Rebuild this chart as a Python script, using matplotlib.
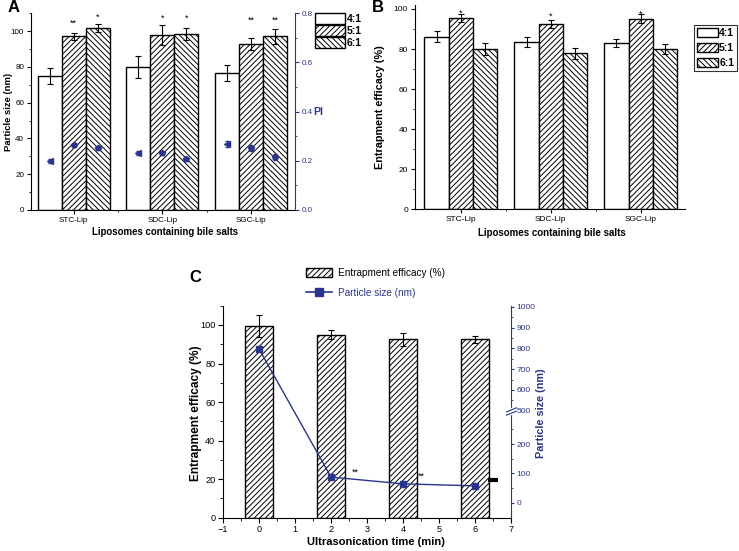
import numpy as np
import matplotlib
matplotlib.use('Agg')
import matplotlib.pyplot as plt
from matplotlib.path import Path
from matplotlib.patches import Patch
from matplotlib.lines import Line2D
from matplotlib.ticker import FixedLocator, MultipleLocator
from matplotlib.transforms import blended_transform_factory

plt.rcParams['font.family'] = ['Liberation Sans', 'DejaVu Sans']
plt.rcParams['hatch.linewidth'] = 0.7

NAVY = '#29348f'

# ---- data ----
groups = ['STC-Lip', 'SDC-Lip', 'SGC-Lip']
ratios = ['4:1', '5:1', '6:1']
hatches = ['', '//////', '\\\\\\\\\\\\']

# panel A: particle size (nm) and PI
size_41 = [75.0, 80.0, 76.4]
size_51 = [97.0, 98.0, 92.6]
size_61 = [101.7, 98.5, 97.0]
size_41_err = [4.3, 6.0, 4.5]
size_51_err = [1.8, 5.5, 3.3]
size_61_err = [2.0, 3.5, 4.3]
size_stars_51 = ['**', '*', '**']
size_stars_61 = ['*', '*', '**']
size_star_y_51 = [104.5, 107.0, 106.0]
size_star_y_61 = [107.5, 107.0, 106.0]
pi_41 = [0.199, 0.233, 0.268]
pi_51 = [0.265, 0.230, 0.252]
pi_61 = [0.253, 0.206, 0.214]
pi_err = [0.008, 0.008, 0.012]

# panel B: entrapment efficacy (%)
ee_41 = [86.2, 83.3, 83.0]
ee_51 = [95.5, 92.5, 95.2]
ee_61 = [80.0, 77.8, 80.0]
ee_41_err = [2.6, 2.5, 2.2]
ee_51_err = [1.8, 2.0, 2.3]
ee_61_err = [3.0, 2.8, 2.5]
ee_star_y = [98.0, 96.5, 97.5]

# panel C: ultrasonication time
times = [0, 2, 4, 6]
ee_time = [99.5, 95.0, 92.6, 92.6]
ee_time_err = [5.5, 2.2, 3.4, 1.7]
psize_time = [797, 87, 64, 57]
c_star_x = [2.67, 4.52]
c_star_y = [104, 90]
c_mark_x = [6.5]
c_mark_y = [78]

fig = plt.figure(figsize=(7.39, 5.51), dpi=100)

ekw = dict(elinewidth=0.8, capsize=2.2, capthick=0.8, ecolor='black')
x = np.arange(len(groups))
w = 0.27


def place_label(axis, xc, yc):
    axis.set_label_coords(xc, yc)
    axis.label.set_va('center')
    axis.label.set_ha('center')


# ============================================
# Panel A
# ============================================
axA = fig.add_axes([0.0419, 0.619, 0.357, 0.357])
sizes = [size_41, size_51, size_61]
size_errs = [size_41_err, size_51_err, size_61_err]
for i in range(3):
    axA.bar(x + (i - 1) * w, sizes[i], w, yerr=size_errs[i], color='white',
            edgecolor='black', linewidth=1.0, hatch=hatches[i], error_kw=ekw,
            label=ratios[i])
for xi, s, y in zip(x, size_stars_51, size_star_y_51):
    axA.text(xi, y, s, ha='center', va='center', fontsize=6.5)
for xi, s, y in zip(x, size_stars_61, size_star_y_61):
    axA.text(xi + w, y, s, ha='center', va='center', fontsize=6.5)
axA.set_xlim(-0.48, 2.49)
axA.set_ylim(0, 110)
axA.set_xticks(x)
axA.set_xticklabels(groups)
axA.xaxis.set_minor_locator(FixedLocator([0.5, 1.5]))
axA.yaxis.set_major_locator(MultipleLocator(20))
axA.yaxis.set_minor_locator(MultipleLocator(10))
axA.tick_params(labelsize=5.8, length=3, width=0.8, pad=2)
axA.tick_params(which='minor', length=1.5, width=0.6)
axA.spines['top'].set_visible(False)
axA.spines['right'].set_visible(False)
axA.set_ylabel('Particle size (nm)', fontsize=6.8, fontweight='bold')
place_label(axA.yaxis, -0.087, 0.5)
axA.set_xlabel('Liposomes containing bile salts', fontsize=6.9, fontweight='bold')
place_label(axA.xaxis, 0.51, -0.11)
axA.legend(loc='upper left', bbox_to_anchor=(1.06, 1.02), frameon=False,
           handlelength=2.9, handleheight=1.15, labelspacing=0.12,
           handletextpad=0.15, borderaxespad=0, prop={'weight': 'bold', 'size': 7.5})

axA2 = axA.twinx()
pis = [pi_41, pi_51, pi_61]
pi_markers = ['<', 'p', 'p']
for i in range(3):
    axA2.errorbar(x + (i - 1) * w, pis[i], yerr=pi_err, fmt=pi_markers[i],
                  color=NAVY, ms=4, elinewidth=0.7, capsize=1.5)
axA2.set_ylim(0, 0.8)
axA2.yaxis.set_major_locator(MultipleLocator(0.2))
axA2.yaxis.set_minor_locator(MultipleLocator(0.1))
for sp in ['top', 'left', 'bottom']:
    axA2.spines[sp].set_visible(False)
axA2.spines['right'].set_color(NAVY)
axA2.tick_params(colors=NAVY, labelsize=5.8, length=3, width=0.8, pad=2)
axA2.tick_params(which='minor', length=1.5, width=0.6, colors=NAVY)
axA2.set_ylabel('PI', rotation=0, color=NAVY, fontsize=7.5, fontweight='bold')
place_label(axA2.yaxis, 1.09, 0.5)

fig.text(8 / 739, 1 - 7 / 551, 'A', fontsize=12, fontweight='bold', va='center')

# ============================================
# Panel B
# ============================================
axB = fig.add_axes([0.5616, 0.620, 0.365, 0.371])
ees = [ee_41, ee_51, ee_61]
ee_errs = [ee_41_err, ee_51_err, ee_61_err]
for i in range(3):
    axB.bar(x + (i - 1) * w, ees[i], w, yerr=ee_errs[i], color='white',
            edgecolor='black', linewidth=1.0, hatch=hatches[i], error_kw=ekw,
            label=ratios[i])
for xi, y in zip(x, ee_star_y):
    axB.text(xi, y, '*', ha='center', va='center', fontsize=6.5)
axB.set_xlim(-0.51, 2.49)
axB.set_ylim(0, 102)
axB.set_xticks(x)
axB.set_xticklabels(groups)
axB.xaxis.set_minor_locator(FixedLocator([0.5, 1.5]))
axB.yaxis.set_major_locator(MultipleLocator(20))
axB.yaxis.set_minor_locator(MultipleLocator(10))
axB.tick_params(labelsize=6.0, length=3, width=0.8, pad=2)
axB.tick_params(which='minor', length=1.5, width=0.6)
axB.spines['top'].set_visible(False)
axB.spines['right'].set_visible(False)
axB.set_ylabel('Entrapment efficacy (%)', fontsize=7.8, fontweight='bold')
place_label(axB.yaxis, -0.13, 0.5)
axB.set_xlabel('Liposomes containing bile salts', fontsize=7.0, fontweight='bold')
place_label(axB.xaxis, 0.507, -0.116)
legB = axB.legend(loc='upper left', bbox_to_anchor=(1.035, 0.9), frameon=True,
                  fancybox=False, edgecolor='black', handlelength=2.0,
                  handleheight=1.0, labelspacing=0.45, handletextpad=0.15,
                  borderpad=0.25, borderaxespad=0, prop={'weight': 'bold', 'size': 7.5})
legB.get_frame().set_linewidth(0.8)

fig.text(372 / 739, 1 - 7 / 551, 'B', fontsize=12, fontweight='bold', va='center')

# ============================================
# Panel C
# ============================================
axC = fig.add_axes([0.3018, 0.0604, 0.3897, 0.3848])
axC.bar(times, ee_time, 0.8, yerr=ee_time_err, color='white', edgecolor='black',
        linewidth=1.0, hatch='//////', error_kw=ekw)
axC.set_xlim(-1, 7)
axC.set_ylim(0, 110)
axC.xaxis.set_major_locator(MultipleLocator(1))
axC.xaxis.set_minor_locator(MultipleLocator(0.5))
axC.yaxis.set_major_locator(MultipleLocator(20))
axC.yaxis.set_minor_locator(MultipleLocator(10))
axC.tick_params(labelsize=6.6, length=3.5, width=0.8, pad=2)
axC.tick_params(which='minor', length=2, width=0.6)
axC.spines['top'].set_visible(False)
axC.spines['right'].set_visible(False)
axC.set_ylabel('Entrapment efficacy (%)', fontsize=8.6, fontweight='bold')
place_label(axC.yaxis, -0.094, 0.494)
axC.set_xlabel('Ultrasonication time (min)', fontsize=8.0, fontweight='bold')
place_label(axC.xaxis, 0.53, -0.113)

# broken right axis for particle size
brk_y = [-200, 313, 500, 1200]
brk_f = [-200 * 0.885, 313 * 0.885, 313 * 0.885 + 1, 313 * 0.885 + 1 + 700 * 0.63]


def fwd(v):
    return np.interp(v, brk_y, brk_f)


def inv(v):
    return np.interp(v, brk_f, brk_y)


axC2 = axC.twinx()
axC2.set_yscale('function', functions=(fwd, inv))
axC2.plot(times, psize_time, '-s', color=NAVY, lw=1.0, ms=4.5)
for xs, ys in zip(c_star_x, c_star_y):
    axC2.text(xs, ys, '**', ha='center', va='center', fontsize=6.5)
axC2.plot(c_mark_x, c_mark_y, marker='_', ms=7, mew=3, color='black', clip_on=False)
axC2.set_ylim(-52, 1005)
axC2.yaxis.set_major_locator(FixedLocator([0, 100, 200, 500, 600, 700, 800, 900, 1000]))
axC2.yaxis.set_minor_locator(FixedLocator([50, 150, 250, 550, 650, 750, 850, 950]))
axC2.yaxis.set_major_formatter(plt.FuncFormatter(lambda v, p: '%d' % v))
axC2.yaxis.set_minor_formatter(plt.NullFormatter())
for sp in ['top', 'left', 'bottom']:
    axC2.spines[sp].set_visible(False)
axC2.spines['right'].set_color(NAVY)
axC2.tick_params(colors=NAVY, labelsize=6.0, length=2.5, width=0.8, pad=1.5)
axC2.tick_params(which='minor', length=1.5, width=0.6, colors=NAVY)
axC2.set_ylabel('Particle size (nm)', color=NAVY, fontsize=7.8, fontweight='bold')
place_label(axC2.yaxis, 1.104, 0.494)

# break marks on the right spine
btr = blended_transform_factory(axC2.transAxes, axC2.transData)
axC2.plot([1], [400], marker='s', ms=4, color='white', mec='white',
          transform=btr, clip_on=False, zorder=5)
slash = Path([(-1, -0.7), (1, 0.1), (-1, -0.1), (1, 0.7)],
             [Path.MOVETO, Path.LINETO, Path.MOVETO, Path.LINETO])
axC2.plot([1], [400], marker=slash, ms=8, mew=0.8, color=NAVY, mfc='none',
          transform=btr, clip_on=False, zorder=6)

handlesC = [Patch(facecolor='white', edgecolor='black', hatch='//////', linewidth=1.0),
            Line2D([], [], color=NAVY, marker='s', lw=1.2, ms=6)]
fig.legend(handlesC, ['Entrapment efficacy (%)', 'Particle size (nm)'],
           loc='upper left', bbox_to_anchor=(297 / 739, 1 - 259 / 551),
           frameon=False, fontsize=7.2, handlelength=2.6, handleheight=0.9,
           labelspacing=0.95, handletextpad=0.6, labelcolor=['black', NAVY])

fig.text(189 / 739, 1 - 278 / 551, 'C', fontsize=12, fontweight='bold', va='center')

fig.savefig('out.png', dpi=100)
